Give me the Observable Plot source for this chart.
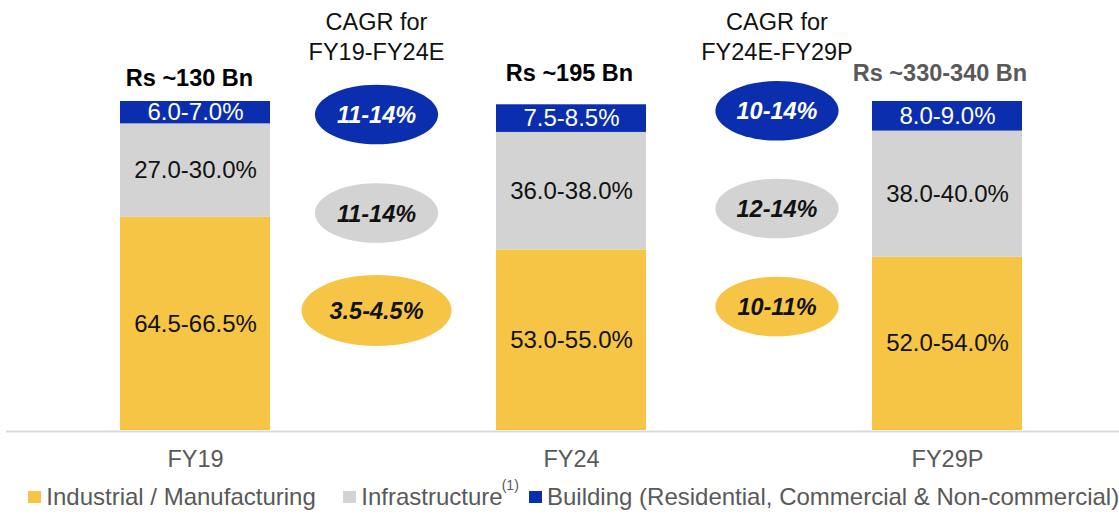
<!DOCTYPE html>
<html>
<head>
<meta charset="utf-8">
<script src="https://cdn.jsdelivr.net/npm/d3@7"></script>
<script src="https://cdn.jsdelivr.net/npm/@observablehq/plot@0.6"></script>
<style>
  body { margin: 0; background: #fff; font-family: "Liberation Sans", Arial, sans-serif; }
  #chart svg { display: block; }
  #legend { position: relative; width: 1119px; height: 34px; font-size: 24px; color: #595959; }
  .item { position: absolute; top: 0; height: 34px; display: flex; align-items: center; white-space: nowrap; }
  .sw { width: 12.5px; height: 12.5px; margin-right: 5.5px; flex: none; }
  .sup { font-size: 14px; position: relative; top: -12px; margin-left: -1px; }
</style>
</head>
<body>
<div id="chart"></div>
<div id="legend"></div>
<script>
// ---------- data ----------
const periods = ["FY19", "FY24", "FY29P"];
const totalLabels = ["Rs ~130 Bn", "Rs ~195 Bn", "Rs ~330-340 Bn"];
const segments = ["Industrial", "Infrastructure", "Building"];
const segmentNames = ["Industrial / Manufacturing", "Infrastructure", "Building (Residential, Commercial & Non-commercial)"];
const industrialShare = [64.8, 54.9, 52.7];
const infrastructureShare = [28.4, 35.7, 38.3];
const buildingShare = [6.8, 8.4, 9.0];
const industrialLabel = ["64.5-66.5%", "53.0-55.0%", "52.0-54.0%"];
const infrastructureLabel = ["27.0-30.0%", "36.0-38.0%", "38.0-40.0%"];
const buildingLabel = ["6.0-7.0%", "7.5-8.5%", "8.0-9.0%"];
const cagrFrom = ["FY19", "FY24"];
const cagrHeaders = ["CAGR for\nFY19-FY24E", "CAGR for\nFY24E-FY29P"];
const cagrBuilding = ["11-14%", "10-14%"];
const cagrInfrastructure = ["11-14%", "12-14%"];
const cagrIndustrial = ["3.5-4.5%", "10-11%"];
const colors = ["#F6C546", "#D3D3D3", "#0A2EAE"];

// ---------- tables ----------
const shares = [industrialShare, infrastructureShare, buildingShare];
const labels = [industrialLabel, infrastructureLabel, buildingLabel];
const table = periods.flatMap((p, i) => segments.map((s, k) => ({period: p, segment: s, share: shares[k][i], label: labels[k][i]})));
const totals = periods.map((p, i) => ({period: p, label: totalLabels[i], total: d3.sum(shares, a => a[i])}));
const cagrValues = {Building: cagrBuilding, Infrastructure: cagrInfrastructure, Industrial: cagrIndustrial};

// ---------- layout / style ----------
const FONT = '"Liberation Sans", Arial, sans-serif';
const totalDy = [-16, -23.3, -20.3];
const totalDx = [-6, -2, -7.5];
const groupDx = [181, 205.5];
const rowSegs = ["Building", "Infrastructure", "Industrial"];
const rowDy = [[13, 111.5, 209], [9.3, 107, 205]];

function ellipse(rx, ry) {
  const k = 0.5523;
  return {
    draw(c) {
      c.moveTo(rx, 0);
      c.bezierCurveTo(rx, ry * k, rx * k, ry, 0, ry);
      c.bezierCurveTo(-rx * k, ry, -rx, ry * k, -rx, 0);
      c.bezierCurveTo(-rx, -ry * k, -rx * k, -ry, 0, -ry);
      c.bezierCurveTo(rx * k, -ry, rx, -ry * k, rx, 0);
      c.closePath();
    }
  };
}

const marks = [
  Plot.ruleY([0], {stroke: "#D9D9D9", strokeWidth: 2, dy: 1}),
  Plot.barY(table, {x: "period", y: "share", fill: "segment"}),
  Plot.text(table, Plot.stackY({x: "period", y: "share", z: "segment",
    text: d => d.segment === "Building" ? d.label : null, fill: "white", fontSize: 24})),
  Plot.text(table, Plot.stackY({x: "period", y: "share", z: "segment",
    text: d => d.segment !== "Building" ? d.label : null, fill: "#111", fontSize: 24})),
  ...totals.map((d, i) => Plot.text([d], {
    x: "period", y: "total", text: "label", lineAnchor: "bottom",
    dx: totalDx[i], dy: totalDy[i], fontWeight: "bold", fontSize: 23.5,
    fill: i === 2 ? "#595959" : "#000"
  })),
  Plot.axisX({tickSize: 0, tickPadding: 20, fontSize: 23.5, color: "#595959", label: null})
];

cagrFrom.forEach((f, g) => {
  marks.push(Plot.text([{from: f, text: cagrHeaders[g]}], {
    x: "from", text: "text", frameAnchor: "top", lineAnchor: "bottom", lineHeight: 1.25,
    dx: groupDx[g], dy: -41.7, fontSize: 23.5, fill: "#111"
  }));
  rowSegs.forEach((s, i) => {
    const datum = [{from: f, segment: s, text: cagrValues[s][g]}];
    const sym = (g === 0 && s === "Industrial") ? ellipse(75, 35.5) : ellipse(61.6, 29.8);
    marks.push(Plot.dot(datum, {x: "from", fill: "segment", symbol: sym, frameAnchor: "top", dx: groupDx[g], dy: rowDy[g][i]}));
    marks.push(Plot.text(datum, {
      x: "from", text: "text", frameAnchor: "top", lineAnchor: "middle", dx: groupDx[g], dy: rowDy[g][i] + 1,
      fontSize: 23.5, fontWeight: "bold", fontStyle: "italic",
      fill: s === "Building" ? "white" : "#111"
    }));
  });
});

const chart = Plot.plot({
  width: 1119,
  height: 480,
  marginTop: 101,
  marginBottom: 50,
  marginLeft: 6,
  marginRight: 0,
  style: {fontFamily: FONT, background: "white", overflow: "visible"},
  x: {domain: periods, range: [119, 1023.5], paddingInner: 0.6, paddingOuter: 0},
  y: {domain: [0, 100], axis: null},
  color: {domain: segments, range: colors},
  marks
});
document.getElementById("chart").appendChild(chart);

// ---------- legend ----------
const legend = document.getElementById("legend");
const legendLeft = [28.3, 343.3, 529];
segments.forEach((s, k) => {
  const item = document.createElement("div");
  item.className = "item";
  item.style.left = legendLeft[k] + "px";
  const sw = document.createElement("div");
  sw.className = "sw";
  sw.style.background = colors[k];
  const txt = document.createElement("span");
  txt.textContent = segmentNames[k];
  item.appendChild(sw);
  item.appendChild(txt);
  if (s === "Infrastructure") {
    const sup = document.createElement("span");
    sup.className = "sup";
    sup.textContent = "(1)";
    item.appendChild(sup);
  }
  legend.appendChild(item);
});
</script>
</body>
</html>
